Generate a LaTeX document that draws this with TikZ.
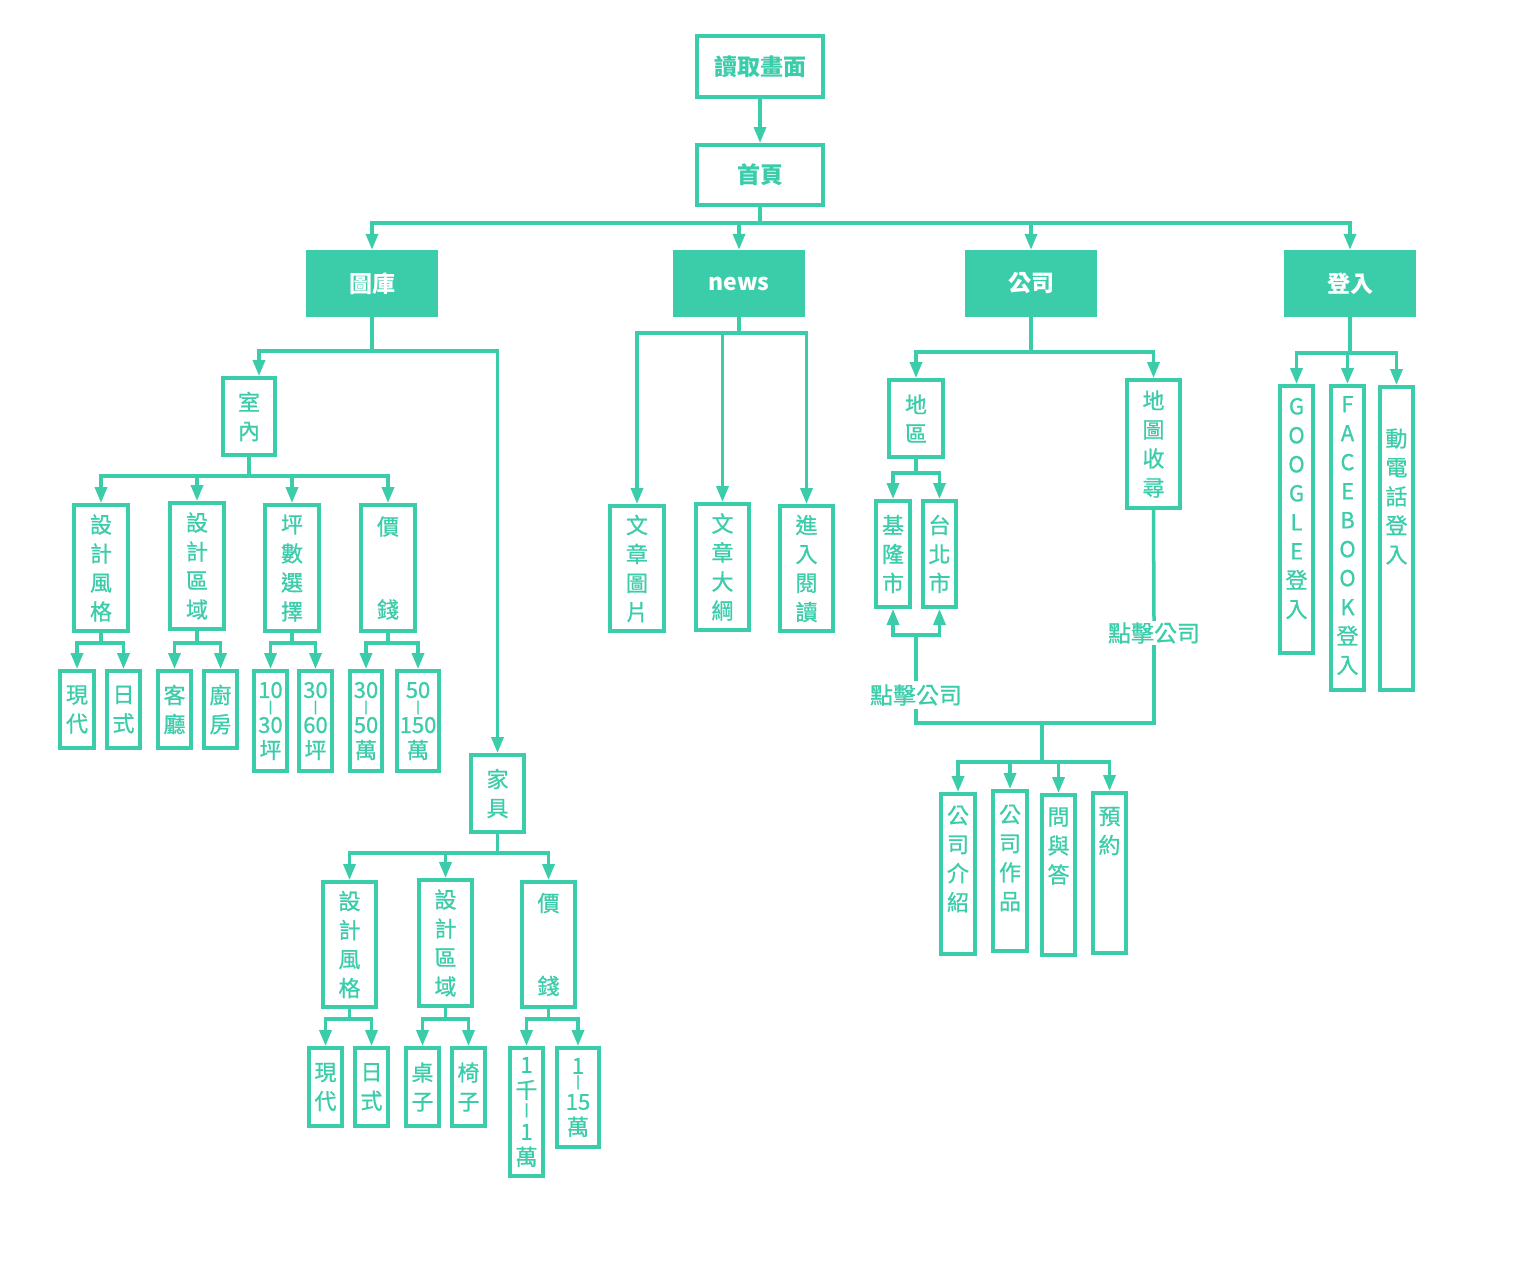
\documentclass[tikz,border=0pt]{standalone}
\usepackage{fontspec}
\setmainfont{Noto Sans CJK TC}
\newfontfamily\medfont{Noto Sans CJK TC}[FakeBold=0.8]
\usetikzlibrary{arrows.meta}
\definecolor{tl}{RGB}{59,205,170}
\newcommand\mybar{{\fontsize{12}{12}\selectfont\bfseries |}}
\newcommand\myfan[3]{%
  \draw[ln] (#1.south) -- (#1.south |- 0,#2);
  \foreach \c in {#3} {%
    \draw[ln] (#1.south |- 0,#2) -- (\c |- 0,#2);
    \draw[ar] (\c |- 0,#2) -- (\c.north);
  }%
}
\begin{document}
\begin{tikzpicture}[x=1pt,y=-1pt,
  ln/.style={draw=tl, line width=3.5pt, line cap=rect},
  ar/.style={draw=tl, line width=3.5pt, -{Triangle[length=16pt,width=12pt]}},
  sz/.style n args={2}{minimum width=#1pt, minimum height=#2pt},
  bx/.style={draw=tl, line width=4pt, inner sep=0pt, text=tl, align=center,
    font=\medfont\fontsize{22}{29}\selectfont},
  top/.style={bx, font=\fontsize{23}{29}\selectfont\bfseries},
  hd/.style={fill=tl, inner sep=0pt, minimum width=132pt, minimum height=67pt,
    text=white, font=\fontsize{23}{29}\selectfont\bfseries},
  lab/.style={text=tl, align=center, inner sep=0pt, font=\medfont\fontsize{22}{29}\selectfont},
  lbl/.style={text=tl, fill=white, inner xsep=0pt, inner ysep=3pt,
    font=\medfont\fontsize{23}{29}\selectfont},
]
\fill[white] (0,0) rectangle (1513,1261);
\useasboundingbox (0,0) rectangle (1513,1261);

% top
\node[top,sz={126}{61}] (dq) at (760,66.5) {讀取畫面};
\node[top,sz={126}{60}] (home) at (760,175) {首頁};
\node[hd] (tk) at (372,283.5) {圖庫};
\node[hd] (nw) at (739,283.5) {news};
\node[hd] (gs) at (1031,283.5) {公司};
\node[hd] (dl) at (1350,283.5) {登入};

% gallery
\node[bx,sz={52}{77}] (sn) at (249,416.5) {室\\內};
\node[bx,sz={54}{126}] (a1) at (101,568) {設\\計\\風\\格};
\node[bx,sz={54}{126}] (a2) at (197,566) {設\\計\\區\\域};
\node[bx,sz={54}{126}] (a3) at (292,568) {坪\\數\\選\\擇};
\node[bx,sz={54}{126}] (a4) at (388,568) {價\\[54pt]錢};
\node[bx,sz={34}{77}] (a11) at (77,709.5) {現\\代};
\node[bx,sz={33}{77}] (a12) at (123.5,709.5) {日\\式};
\node[bx,sz={33}{77}] (a21) at (174.5,709.5) {客\\廳};
\node[bx,sz={33}{77}] (a22) at (220.5,709.5) {廚\\房};
\node[bx,sz={33}{100}] (a31) at (270.5,721) {10\\[-16pt]\mybar\\[-7pt]30\\[-3.6pt]坪};
\node[bx,sz={33}{100}] (a32) at (315.5,721) {30\\[-16pt]\mybar\\[-7pt]60\\[-3.6pt]坪};
\node[bx,sz={32}{100}] (a41) at (366,721) {30\\[-16pt]\mybar\\[-7pt]50\\[-3.6pt]萬};
\node[bx,sz={42}{100}] (a42) at (418,721) {50\\[-16pt]\mybar\\[-7pt]150\\[-3.6pt]萬};

\node[bx,sz={53}{77}] (jj) at (497.5,793.5) {家\\具};
\node[bx,sz={53}{125}] (b1) at (349.5,944.5) {設\\計\\風\\格};
\node[bx,sz={53}{126}] (b2) at (445.5,943) {設\\計\\區\\域};
\node[bx,sz={53}{125}] (b3) at (548.5,944.5) {價\\[54pt]錢};
\node[bx,sz={33}{78}] (b11) at (325.5,1087) {現\\代};
\node[bx,sz={33}{78}] (b12) at (371.5,1087) {日\\式};
\node[bx,sz={33}{78}] (b21) at (422.5,1087) {桌\\子};
\node[bx,sz={33}{78}] (b22) at (468.5,1087) {椅\\子};
\node[bx,sz={33}{128}] (b31) at (526.5,1112) {1\\[-3.6pt]千\\[-13.4pt]\mybar\\[-3pt]1\\[-3.6pt]萬};
\node[bx,sz={42}{99}] (b32) at (578,1097.5) {1\\[-17pt]\mybar\\[-5pt]15\\[-3.6pt]萬};

% news
\node[bx,sz={54}{125}] (n1) at (637,568.5) {文\\章\\圖\\片};
\node[bx,sz={53}{126}] (n2) at (722.5,567) {文\\章\\大\\綱};
\node[bx,sz={53}{125}] (n3) at (806.5,568.5) {進\\入\\閱\\讀};

% company
\node[bx,sz={54}{77}] (c1) at (916,418.5) {地\\區};
\node[bx,sz={53}{128}] (c2) at (1153.5,444) {地\\圖\\收\\尋};
\node[bx,sz={34}{106}] (c11) at (893,554) {基\\隆\\市};
\node[bx,sz={33}{106}] (c12) at (939.5,554) {台\\北\\市};
\node[lbl,inner ysep=5pt] (lblL) at (916,695) {點擊公司};
\node[lbl] (lblR) at (1154,633) {點擊公司};
\node[bx,sz={34}{160},label={[lab,yshift=15pt]center:公\\司\\介\\紹}] (d1) at (958,874) {};
\node[bx,sz={34}{160},label={[lab,yshift=13pt]center:公\\司\\作\\品}] (d2) at (1010,871) {};
\node[bx,sz={33}{160},label={[lab,yshift=29pt]center:問\\與\\答}] (d3) at (1058.5,875) {};
\node[bx,sz={33}{160},label={[lab,yshift=42pt]center:預\\約}] (d4) at (1109.5,873) {};

% login
\node[bx,sz={33}{267},label={[lab,yshift=11pt]center:G\\O\\O\\G\\L\\E\\登\\入}] (e1) at (1296.5,519.5) {};
\node[bx,sz={33}{304},label={[lab,yshift=2.5pt]center:F\\A\\C\\E\\B\\O\\O\\K\\登\\入}] (e2) at (1347.5,538) {};
\node[bx,sz={33}{303},label={[lab,yshift=42pt]center:動\\電\\話\\登\\入}] (e3) at (1396.5,538.5) {};

% connectors
\draw[ar] (dq.south) -- (home.north);
\myfan{home}{223}{tk,nw,gs,dl}

\coordinate (snt) at ([xshift=10pt]sn.north);
\draw[ln] (tk.south) -- (tk.south |- 0,351);
\draw[ln] (snt |- 0,351) -- (jj |- 0,351);
\draw[ar] (snt |- 0,351) -- (snt);
\draw[ar] (jj |- 0,351) -- (jj.north);

\myfan{sn}{476}{a1,a2,a3,a4}
\myfan{a1}{643}{a11,a12}
\myfan{a2}{643}{a21,a22}
\myfan{a3}{643}{a31,a32}
\myfan{a4}{643}{a41,a42}
\myfan{jj}{853}{b1,b2,b3}
\myfan{b1}{1019}{b11,b12}
\myfan{b2}{1019}{b21,b22}
\myfan{b3}{1019}{b31,b32}
\myfan{nw}{333}{n1,n2,n3}
\myfan{gs}{352}{c1,c2}
\myfan{c1}{473}{c11,c12}
\myfan{dl}{353}{e1,e2,e3}

\draw[ln] (c2.south) -- (lblR.north);
\draw[ln] (lblR.south) -- (lblR |- 0,723) -- (lblL |- 0,723) -- (lblL.south);
\draw[ln] (lblL.north) -- (lblL |- 0,635);
\draw[ln] (c11 |- 0,635) -- (c12 |- 0,635);
\draw[ar] (c11 |- 0,635) -- (c11.south);
\draw[ar] (c12 |- 0,635) -- (c12.south);
\coordinate (mid) at (1042,723);
\draw[ln] (mid) -- (mid |- 0,762);
\foreach \c in {d1,d2,d3,d4} {%
  \draw[ln] (mid |- 0,762) -- (\c |- 0,762);
  \draw[ar] (\c |- 0,762) -- (\c.north);
}
\end{tikzpicture}
\end{document}
